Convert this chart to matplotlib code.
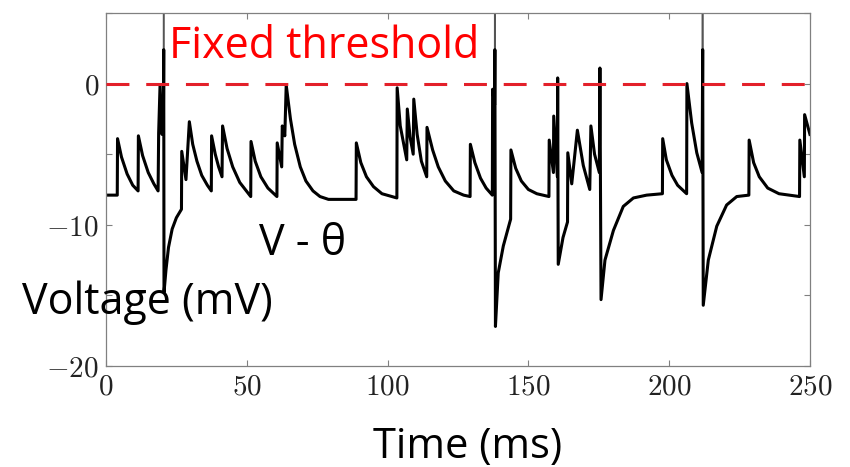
import matplotlib
matplotlib.use("Agg")
import matplotlib.pyplot as plt
import numpy as np

plt.rcParams['mathtext.fontset'] = 'cm'

# membrane trace V - theta (ms, mV)
time_ms = [0.0, 4.0, 4.1, 5.5, 7.5, 9.5, 11.4, 11.5, 13.0, 15.0, 17.0, 18.5, 18.7, 19.2, 19.9,
           20.4, 20.5, 20.6, 21.3, 22.2, 23.5, 25.0, 26.8, 26.9, 28.4, 29.6, 30.8, 32.3, 34.0,
           36.0, 37.4, 37.5, 38.8, 40.0, 41.2, 41.4, 43.0, 45.0, 47.5, 51.4, 51.5, 53.0, 55.0,
           57.5, 60.7, 60.8, 62.4, 62.6, 63.5, 64.0, 65.5, 67.0, 69.0, 71.0, 73.5, 76.0, 79.0,
           88.8, 88.9, 90.5, 92.5, 95.0, 98.0, 103.3, 103.4, 104.5, 106.8, 107.0, 108.0, 109.1,
           109.3, 110.5, 112.0, 113.9, 114.0, 116.0, 118.0, 120.5, 123.5, 127.0, 129.3, 129.4,
           131.0, 133.0, 135.0, 137.2, 137.3, 138.0, 138.1, 138.3, 139.3, 141.1, 142.9, 143.7,
           143.8, 145.5, 147.5, 150.0, 153.0, 157.3, 157.4, 158.9, 159.0, 160.3, 160.4, 160.6,
           162.3, 163.9, 164.0, 165.4, 167.4, 169.5, 171.8, 172.2, 173.5, 175.2, 175.4, 175.8,
           177.2, 180.2, 183.7, 187.3, 192.0, 197.6, 197.7, 199.0, 201.0, 203.0, 206.2, 206.3,
           208.0, 209.8, 211.7, 211.9, 212.1, 213.9, 216.9, 220.4, 224.0, 228.3, 228.4, 230.0,
           232.0, 235.0, 239.0, 246.3, 246.4, 248.0, 248.1, 250.0]
voltage = [-7.9, -7.9, -3.9, -5.2, -6.4, -7.2, -7.6, -3.7, -5.1, -6.3, -7.1, -7.6, -3.5, -0.1, -3.6,
           -2.0, 40.0, -14.8, -13.2, -11.6, -10.3, -9.5, -8.9, -4.8, -6.8, -2.7, -4.3, -5.5, -6.5,
           -7.2, -7.6, -3.7, -5.0, -5.9, -6.6, -3.0, -4.6, -5.9, -7.0, -8.0, -4.1, -5.5, -6.6,
           -7.4, -8.0, -4.2, -5.9, -3.0, -3.7, -0.1, -2.5, -4.3, -5.9, -6.9, -7.6, -8.0, -8.2,
           -8.2, -4.2, -5.6, -6.6, -7.3, -7.8, -8.1, -0.3, -3.0, -5.4, -1.8, -3.8, -5.0,
           -1.1, -3.6, -5.5, -6.6, -3.1, -4.7, -5.9, -6.9, -7.6, -7.9, -8.0, -4.3,
           -5.6, -6.7, -7.4, -7.9, -0.4, -1.5, 40.0, -17.2, -13.4, -11.5, -10.2, -9.6,
           -4.7, -6.0, -6.9, -7.5, -7.8, -8.0, -4.0, -6.3, -2.3, -6.6, 0.4, -12.8,
           -10.9, -9.8, -4.9, -7.1, -3.3, -5.8, -7.5, -3.0, -5.0, -6.3, 1.1, -15.3,
           -12.5, -10.4, -8.7, -8.1, -7.9, -7.8, -3.9, -5.4, -6.5, -7.2, -7.8, 0.0,
           -2.8, -4.9, -6.3, 40.0, -15.7, -12.5, -10.1, -8.6, -8.0, -7.9, -4.0, -5.6,
           -6.6, -7.4, -7.8, -8.0, -4.0, -6.6, -2.2, -3.6]

threshold = 0.0
x_ticks = [0, 50, 100, 150, 200, 250]
y_ticks = [-20, -15, -10, -5, 0, 5]
y_labels = [r'$-20$', '', r'$-10$', '', r'$0$', '']

fig = plt.figure(figsize=(8.5, 4.67), dpi=100)
ax = fig.add_axes([0.1247, 0.2163, 0.8282, 0.7559])

# spikes run off the top as a thin grey line, thick black trace below
ax.plot(time_ms, voltage, color='#555555', lw=1.0, zorder=2)
ax.plot(time_ms, np.minimum(voltage, 2.4), color='black', lw=2.2, zorder=2)
ax.axhline(threshold, color='#e3202a', lw=2.2, dashes=(7.5, 5.5), zorder=3)

ax.set_xlim(0, 250)
ax.set_ylim(-20, 5)
ax.set_xticks(x_ticks)
ax.set_xticklabels([rf'${v}$' for v in x_ticks])
ax.set_yticks(y_ticks)
ax.set_yticklabels(y_labels)
ax.tick_params(direction='in', top=True, right=True, length=4, width=0.8,
               color='#808080', labelsize=21, pad=5, labelcolor='#222222')
for s in ax.spines.values():
    s.set_color('#808080')
    s.set_linewidth(0.9)

sans = ['Open Sans', 'DejaVu Sans']
fig.text(169 / 850, 1 - 58 / 467, 'Fixed threshold', color='#ff0000', fontsize=31,
         family=sans, ha='left', va='baseline')
fig.text(259 / 850, 1 - 255 / 467, 'V - θ', color='black', fontsize=31,
         family=sans, ha='left', va='baseline')
fig.text(22 / 850, 1 - 314 / 467, 'Voltage (mV)', color='black', fontsize=31,
         family=sans, ha='left', va='baseline')
fig.text(373 / 850, 1 - 458 / 467, 'Time (ms)', color='black', fontsize=30,
         family=sans, ha='left', va='baseline')

fig.savefig('out.png', dpi=100)
